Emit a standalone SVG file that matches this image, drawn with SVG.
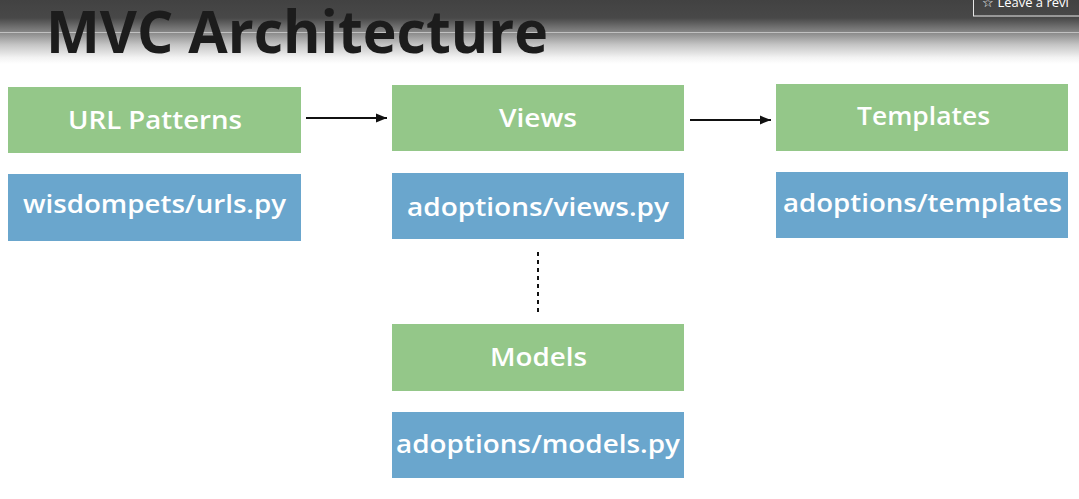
<svg xmlns="http://www.w3.org/2000/svg" width="1079" height="499" viewBox="0 0 1079 499">
<defs>
<linearGradient id="hdr" x1="0" y1="0" x2="0" y2="1">
<stop offset="0" stop-color="#424242"/>
<stop offset="0.28" stop-color="#484848"/>
<stop offset="0.5" stop-color="#858585"/>
<stop offset="0.7" stop-color="#c5c5c5"/>
<stop offset="0.9" stop-color="#f3f3f3"/>
<stop offset="1" stop-color="#ffffff"/>
</linearGradient>
<marker id="arr" viewBox="0 0 10 10" refX="10" refY="5" markerWidth="11" markerHeight="11" markerUnits="userSpaceOnUse" orient="auto">
<path d="M0,1 L10,5 L0,9 z" fill="#111"/>
</marker>
<clipPath id="btnclip"><rect x="970" y="0" width="109" height="20"/></clipPath>
</defs>
<style>
.g{fill:#94c789}
.b{fill:#6aa6cd}
.t{font-family:"Open Sans",Lato,sans-serif;font-weight:600;font-size:25px;fill:#ffffff}
.conn{stroke:#111;stroke-width:2;fill:none}
</style>
<rect x="0" y="0" width="1079" height="499" fill="#ffffff"/>
<rect x="0" y="0" width="1079" height="64" fill="url(#hdr)"/>
<line x1="0" y1="32.5" x2="1079" y2="32.5" stroke="#d0d0d0" stroke-width="1" opacity="0.8"/>
<g id="title">
<text x="46" y="53" font-family="'Open Sans',Lato,sans-serif" font-weight="700" font-size="59" fill="#1c1c1c" textLength="502" lengthAdjust="spacingAndGlyphs">MVC Architecture</text>
</g>
<g id="review-button" clip-path="url(#btnclip)">
<rect x="973.5" y="-5" width="120" height="21" fill="none" stroke="#e8e8e8" stroke-width="1"/>
<text x="982" y="7" font-family="'Open Sans',sans-serif" font-size="13" fill="#ffffff">☆ Leave a revi</text>
</g>
<g id="connectors">
<line class="conn" x1="306" y1="118" x2="387" y2="118" marker-end="url(#arr)"/>
<line class="conn" x1="690" y1="120" x2="771" y2="120" marker-end="url(#arr)"/>
<line class="conn" x1="538" y1="252" x2="538" y2="314" stroke-dasharray="4,4" stroke-width="2.5"/>
</g>
<g id="url-patterns"><rect class="g" x="8" y="87" width="293" height="66"/><text class="t" x="68" y="129" textLength="174" lengthAdjust="spacingAndGlyphs">URL Patterns</text></g>
<g id="wisdompets-urls"><rect class="b" x="8" y="174" width="293" height="67"/><text class="t" x="23" y="213" textLength="263" lengthAdjust="spacingAndGlyphs">wisdompets/urls.py</text></g>
<g id="views"><rect class="g" x="392" y="85" width="292" height="66"/><text class="t" x="499" y="127" textLength="78" lengthAdjust="spacingAndGlyphs">Views</text></g>
<g id="adoptions-views"><rect class="b" x="392" y="173" width="292" height="66"/><text class="t" x="407" y="216" textLength="262" lengthAdjust="spacingAndGlyphs">adoptions/views.py</text></g>
<g id="templates"><rect class="g" x="776" y="84" width="292" height="67"/><text class="t" x="857" y="125" textLength="133" lengthAdjust="spacingAndGlyphs">Templates</text></g>
<g id="adoptions-templates"><rect class="b" x="776" y="172" width="292" height="66"/><text class="t" x="783" y="212" textLength="279" lengthAdjust="spacingAndGlyphs">adoptions/templates</text></g>
<g id="models"><rect class="g" x="392" y="324" width="292" height="67"/><text class="t" x="490" y="366" textLength="97" lengthAdjust="spacingAndGlyphs">Models</text></g>
<g id="adoptions-models"><rect class="b" x="392" y="412" width="292" height="66"/><text class="t" x="396" y="453" textLength="284" lengthAdjust="spacingAndGlyphs">adoptions/models.py</text></g>
</svg>
